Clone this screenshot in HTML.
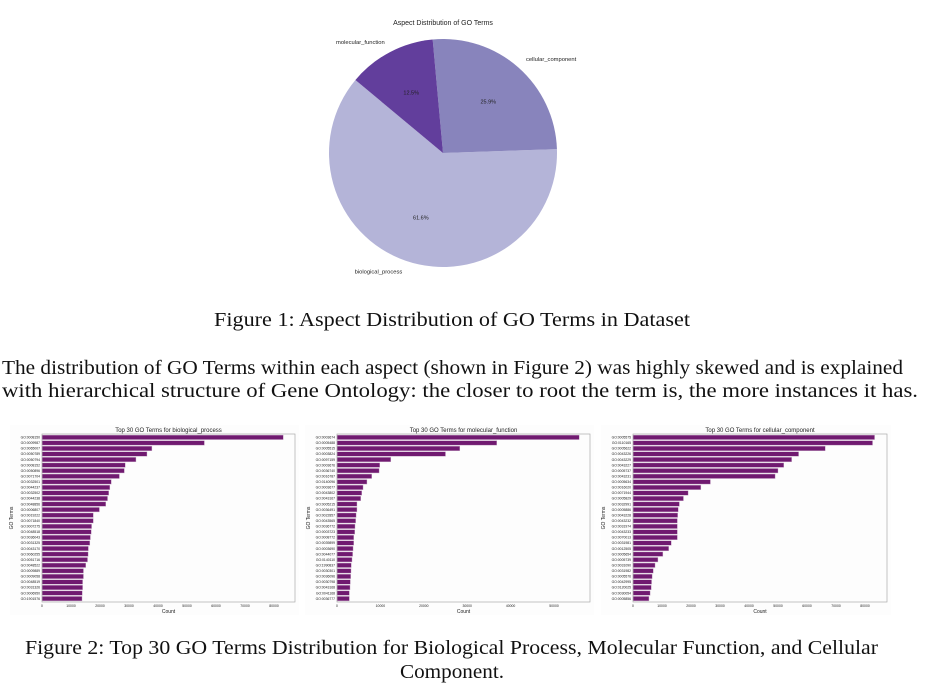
<!DOCTYPE html>
<html><head><meta charset="utf-8"><style>
body{margin:0;background:#fff;width:931px;height:697px;overflow:hidden}
svg{display:block}
.serif{font-family:"Liberation Serif",serif;fill:#111}
.sans{font-family:"Liberation Sans","DejaVu Sans",sans-serif;fill:#222}
</style></head><body>
<svg id="page" width="931" height="697" viewBox="0 0 931 697">
<g id="pie"></g>
<text class="serif" x="214" y="326" font-size="19.5" textLength="476" lengthAdjust="spacingAndGlyphs">Figure 1: Aspect Distribution of GO Terms in Dataset</text>
<text class="serif" x="2" y="374" font-size="20" textLength="901" lengthAdjust="spacingAndGlyphs">The distribution of GO Terms within each aspect (shown in Figure 2) was highly skewed and is explained</text>
<text class="serif" x="2" y="397" font-size="20" textLength="916" lengthAdjust="spacingAndGlyphs">with hierarchical structure of Gene Ontology: the closer to root the term is, the more instances it has.</text>
<g id="bars"></g>
<text class="serif" x="25" y="654" font-size="19.5" textLength="853" lengthAdjust="spacingAndGlyphs">Figure 2: Top 30 GO Terms Distribution for Biological Process, Molecular Function, and Cellular</text>
<text class="serif" x="400" y="678" font-size="19.5" textLength="104" lengthAdjust="spacingAndGlyphs">Component.</text>
</svg>
<script>
const pieLabels = ["biological_process","cellular_component","molecular_function"];
const pieValues = [61.6, 25.9, 12.5];
const pieColors = ["#b4b4d8","#8884bc","#623e9c"];

const bpTerms = ["GO:0008150","GO:0009987","GO:0065007","GO:0050789","GO:0050794","GO:0008152","GO:0050896","GO:0071704","GO:0032501","GO:0044237","GO:0032502","GO:0044238","GO:0048856","GO:0006807","GO:0019222","GO:0071840","GO:0007275","GO:0048518","GO:0036043","GO:0031325","GO:0043170","GO:0060255","GO:0051716","GO:0048522","GO:0009889","GO:0009058","GO:0048519","GO:0031326","GO:0006950","GO:1901576"];
const bpValues = [83200,56000,37900,36200,32400,28700,28400,26700,23900,23400,23000,22600,22000,19800,17700,17700,17100,17000,16700,16500,16000,15900,15700,15100,14300,14300,14000,14000,13900,13800];
const mfTerms = ["GO:0003674","GO:0005488","GO:0005515","GO:0003824","GO:0097159","GO:0003676","GO:0036740","GO:0016787","GO:0140096","GO:0003677","GO:0043802","GO:0043167","GO:0005215","GO:0036491","GO:0022857","GO:0043565","GO:0036772","GO:0003723","GO:0008772","GO:0039899","GO:0003690","GO:0044077","GO:0140110","GO:1990837","GO:0030301","GO:0036096","GO:0030798","GO:0043168","GO:0041168","GO:0036777"];
const mfValues = [55800,36800,28300,25000,12400,9850,9700,8000,6900,6000,5700,5460,4600,4600,4400,4300,4150,4100,3850,3850,3700,3600,3460,3300,3230,3150,3080,3000,2850,2850];
const ccTerms = ["GO:0005575","GO:0110165","GO:0005622","GO:0043226","GO:0043229","GO:0043227","GO:0005737","GO:0043231","GO:0005634","GO:0016020","GO:0071944","GO:0005829","GO:0032991","GO:0005886","GO:0043228","GO:0043232","GO:0031974","GO:0043233","GO:0070013","GO:0031981","GO:0012505","GO:0005654","GO:0005739","GO:0031090","GO:0031982","GO:0005576","GO:0042995","GO:0120025","GO:0030054","GO:0005856"];
const ccValues = [83300,82600,66300,57100,54700,52000,50000,49000,26700,23400,19000,17400,16000,15600,15400,15300,15300,15300,15300,13200,12300,10300,8600,7600,7000,6600,6400,6300,5900,5500];
const bpTicks = [0,10000,20000,30000,40000,50000,60000,70000,80000];
const mfTicks = [0,10000,20000,30000,40000,50000];
const ccTicks = [0,10000,20000,30000,40000,50000,60000,70000,80000];

const NS="http://www.w3.org/2000/svg";
function mk(parent,tag,attrs,text){const e=document.createElementNS(NS,tag);for(const k in attrs)e.setAttribute(k,attrs[k]);if(text!==undefined)e.textContent=text;parent.appendChild(e);return e;}

// Pie
(function(){
  const g=document.getElementById('pie');
  const cx=443,cy=153,r=114;
  const t=mk(g,'text',{x:cx,y:25,'font-size':7,'text-anchor':'middle',class:'sans'},'Aspect Distribution of GO Terms');
  
  
  const total=pieValues.reduce((a,b)=>a+b,0);
  let start=140.2;
  pieValues.forEach((v,i)=>{
    const sweep=v/total*360;
    const s=start, e=start+sweep;
    const p=(d)=>[cx+r*Math.cos(d*Math.PI/180), cy-r*Math.sin(d*Math.PI/180)];
    const [x1,y1]=p(s),[x2,y2]=p(e);
    const path=mk(g,'path',{d:`M${cx},${cy}L${x1},${y1}A${r},${r} 0 ${sweep>180?1:0} 0 ${x2},${y2}Z`,fill:pieColors[i]});
    
    
    const mid=(s+e)/2*Math.PI/180;
    const pt=mk(g,'text',{x:cx+0.6*r*Math.cos(mid),y:cy-0.6*r*Math.sin(mid)+2,'font-size':5.5,'text-anchor':'middle',class:'sans'},v.toFixed(1)+'%');
    
    
    const lx=cx+1.1*r*Math.cos(mid), ly=cy-1.1*r*Math.sin(mid);
    const lt=mk(g,'text',{x:lx,y:ly+2,'font-size':5.8,'text-anchor':Math.cos(mid)>0?'start':'end',class:'sans'},pieLabels[i]);
    
    
    start=e;
  });
})();

// Bars
function barChart(name,title,terms,values,ticks,x0,x1,pxPer10k,ylabX){
  const g=mk(document.getElementById('bars'),'g',{});
  
  
  const y0=434,y1=602;
  mk(g,'rect',{x:x0-32,y:425,width:x1-x0+36,height:190,fill:'#fdfdfd'});
  const sx=v=>x0+v/10000*pxPer10k;
  const band=(y1-y0)/30.2;
  const ti=mk(g,'text',{x:(x0+x1)/2,y:432,'font-size':6,'text-anchor':'middle',class:'sans'},title);
  
  
  values.forEach((v,i)=>{
    const cy=y0+band*(i+0.6);
    const b=mk(g,'rect',{x:x0,y:cy-band*0.4,width:sx(v)-x0,height:band*0.8,fill:'#701a70',stroke:'#c7a9c7','stroke-width':0.4});
    
    
    const l=mk(g,'text',{x:x0-2,y:cy+1.2,'font-size':3.4,'text-anchor':'end',class:'sans',fill:'#555'},terms[i]);
    
    
  });
  ticks.forEach(t=>{
    const tx=mk(g,'text',{x:sx(t),y:y1+5,'font-size':3.4,'text-anchor':'middle',class:'sans',fill:'#555'},String(t));
    
    
  });
  const fr=mk(g,'rect',{x:x0,y:y0,width:x1-x0,height:y1-y0,fill:'none',stroke:'#aaa','stroke-width':0.7});
  
  
  const xl=mk(g,'text',{x:(x0+x1)/2,y:613,'font-size':5,'text-anchor':'middle',class:'sans'},'Count');
  
  
  const yl=mk(g,'text',{x:0,y:0,'font-size':5,'text-anchor':'middle',class:'sans',transform:`translate(${ylabX},${(y0+y1)/2}) rotate(-90)`},'GO Terms');
  
  
}
barChart('bp-chart','Top 30 GO Terms for biological_process',bpTerms,bpValues,bpTicks,42,295,29.0,13);
barChart('mf-chart','Top 30 GO Terms for molecular_function',mfTerms,mfValues,mfTicks,337,590,43.4,310);
barChart('cc-chart','Top 30 GO Terms for cellular_component',ccTerms,ccValues,ccTicks,633,887,29.0,605);
</script>
</body></html>
